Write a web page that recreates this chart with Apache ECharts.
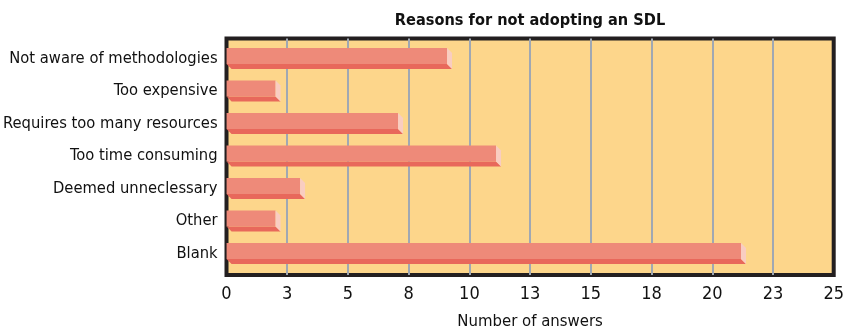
<!DOCTYPE html>
<html><head><meta charset="utf-8">
<script src="https://cdn.jsdelivr.net/npm/echarts@6/dist/echarts.min.js"></script>
<style>html,body{margin:0;padding:0;background:#fff}#c{width:847px;height:335px}</style>
</head><body><div id="c"></div>
<script>
const categories = ['Not aware of methodologies','Too expensive','Requires too many resources','Too time consuming','Deemed unneclessary','Other','Blank'];
const answers = [9, 2, 7, 11, 3, 2, 21];
const tickLabels = ['0','3','5','8','10','13','15','18','20','23','25'];
const FONT = "'Liberation Sans Narrow','DejaVu Sans Condensed',sans-serif";

const chart = echarts.init(document.getElementById('c'));
chart.setOption({
  animation: false,
  title: { text: 'Reasons for not adopting an SDL', left: 525, top: 8, textAlign: 'center',
    textStyle: { fontFamily: FONT, fontWeight: 'bold', fontSize: 16.2, color: '#111' } },
  grid: [
    { left: 226.5, right: 8, top: 38.5, bottom: 57.5, show: true, backgroundColor: '#FDD68B', borderColor: '#231F20', borderWidth: 4, z: 0 },
    { left: 226.5, right: 8, top: 38, height: 227.5 }
  ],
  xAxis: [
    { gridIndex: 0, type: 'value', min: 0, max: 25, interval: 2.5,
      name: 'Number of answers', nameLocation: 'middle', nameGap: 38,
      nameTextStyle: { fontFamily: FONT, fontSize: 16.6, color: '#111' },
      axisLine: { show: false }, axisTick: { show: false },
      axisLabel: { fontFamily: FONT, fontSize: 18, color: '#111', margin: 10,
        formatter: v => tickLabels[Math.round(v / 2.5)] },
      splitLine: { show: true, showMinLine: false, showMaxLine: false, lineStyle: { color: '#A0A8B3', width: 2 } } },
    { gridIndex: 1, type: 'value', min: 0, max: 25, show: false }
  ],
  yAxis: [
    { gridIndex: 0, type: 'value', show: false },
    { gridIndex: 1, type: 'category', data: categories, inverse: true,
      axisLine: { show: false }, axisTick: { show: false }, splitLine: { show: false },
      axisLabel: { fontFamily: FONT, fontSize: 16.4, color: '#111', margin: 9,
        verticalAlign: 'top', lineHeight: 8 } }
  ],
  series: [{
    type: 'custom', xAxisIndex: 1, yAxisIndex: 1, z: 5,
    data: answers.map((v, i) => [v, i]),
    encode: { x: 0, y: 1 },
    renderItem: function (params, api) {
      const p0 = api.coord([0, api.value(1)]);
      const pv = api.coord([api.value(0), api.value(1)]);
      const x0 = p0[0], xv = pv[0];
      const top = p0[1] - 6.3, h = 16, d = 5;
      return { type: 'group', children: [
        { type: 'polygon', shape: { points: [[x0, top + h], [xv, top + h], [xv + d, top + h + d], [x0 + d, top + h + d]] },
          style: { fill: '#E8685B' } },
        { type: 'rect', shape: { x: x0, y: top, width: xv - x0, height: h }, style: { fill: '#EE8A79' } },
        { type: 'polygon', shape: { points: [[xv, top], [xv + d, top + d], [xv + d, top + h + d], [xv, top + h]] },
          style: { fill: '#F9CDC1' } }
      ]};
    }
  }]
});
</script></body></html>
